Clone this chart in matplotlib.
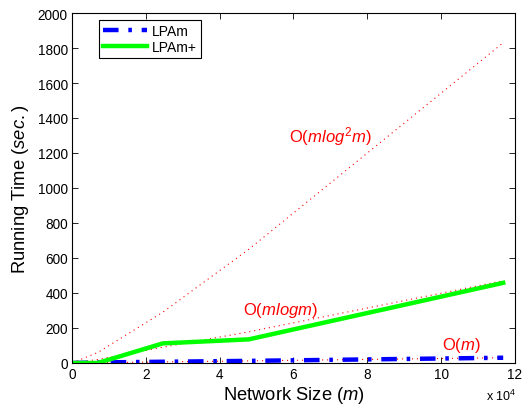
import matplotlib
matplotlib.use("Agg")
import matplotlib.pyplot as plt
import numpy as np

plt.rcParams['font.family'] = ['Liberation Sans', 'DejaVu Sans']
plt.rcParams['mathtext.fontset'] = 'custom'
plt.rcParams['mathtext.rm'] = 'Liberation Sans'
plt.rcParams['mathtext.it'] = 'Liberation Sans:italic'

# Network sizes (in units of 10^4 edges)
sizes = [0.0, 0.7, 2.46, 4.79, 11.68]
lpam = [0, 3, 7, 12, 30]
lpam_plus = [0, 0, 112, 135, 458]
o_mlog2m = [0, 60, 290, 650, 1830]
o_mlogm = [0, 20, 90, 178, 470]
o_m = [0, 2, 6, 12, 30]

fig = plt.figure(figsize=(5.24, 4.06), dpi=100)
ax = fig.add_axes([0.1374, 0.1035, 0.8454, 0.862])

red = (1, 0, 0)
ax.plot(sizes, o_mlog2m, linestyle=(0, (1, 3.5)), color=red, lw=0.8)
ax.plot(sizes, o_mlogm, linestyle=(0, (1, 3.5)), color=red, lw=0.8)
ax.plot(sizes, o_m, linestyle=(0, (1, 3.5)), color=red, lw=0.8)
l1, = ax.plot(sizes, lpam, linestyle=(0, (3.5, 2.2, 0.8, 2.2)), color=(0, 0, 1), lw=3.2, label='LPAm')
l2, = ax.plot(sizes, lpam_plus, linestyle='-', color=(0, 1, 0), lw=3.2, label='LPAm+')

ax.set_xlim(0, 12)
ax.set_ylim(0, 2000)
ax.set_xticks(np.arange(0, 13, 2))
ax.set_yticks(np.arange(0, 2001, 200))
ax.tick_params(direction='in', top=True, right=True, labelsize=9.8, length=4, width=0.6, pad=3)
for s in ax.spines.values():
    s.set_linewidth(0.8)

ax.set_xlabel('Network Size ($\\mathit{m}$)', fontsize=13.2, labelpad=2)
ax.set_ylabel('Running Time ($\\mathit{sec.}$)', fontsize=13.2, labelpad=5)

ax.text(7.0, 1300, 'O($\\mathit{mlog}^2\\mathit{m}$)', color=red, fontsize=12, ha='center', va='center')
ax.text(5.66, 308, 'O($\\mathit{mlogm}$)', color=red, fontsize=12, ha='center', va='center')
ax.text(10.55, 108, 'O($\\mathit{m}$)', color=red, fontsize=12, ha='center', va='center')

fig.text(0.957, 0.005, 'x 10$^4$', fontsize=9, ha='center', va='bottom')

leg = ax.legend(handles=[l1, l2], loc='upper left', bbox_to_anchor=(0.045, 1.0), fontsize=10,
                frameon=True, fancybox=False, edgecolor='black', framealpha=1,
                handlelength=3.2, borderpad=0.3, labelspacing=0.15, handletextpad=0.3)
leg.get_frame().set_linewidth(0.8)

fig.savefig('out.png', dpi=100)
